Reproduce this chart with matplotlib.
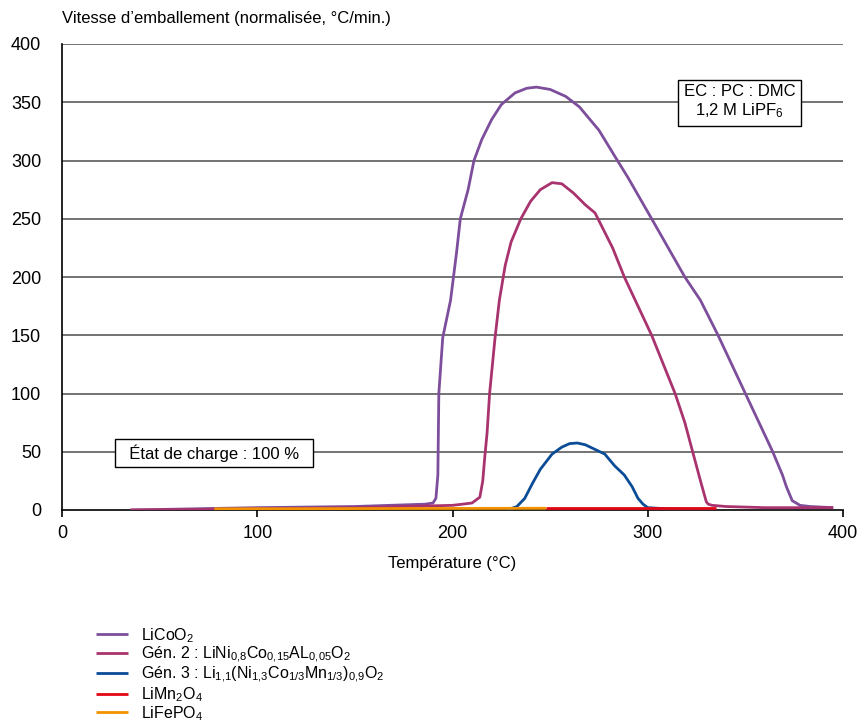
import matplotlib
matplotlib.use("Agg")
import matplotlib.pyplot as plt
from matplotlib import font_manager

# pick a narrow font if available
names = {f.name for f in font_manager.fontManager.ttflist}
main_font = "Liberation Sans Narrow" if "Liberation Sans Narrow" in names else "Liberation Sans"
plt.rcParams["font.family"] = [main_font, "DejaVu Sans"]
plt.rcParams["mathtext.fontset"] = "custom"
plt.rcParams["mathtext.rm"] = main_font
plt.rcParams["mathtext.it"] = main_font
plt.rcParams["mathtext.default"] = "rm"

# data
licoo2_x = [35, 100, 150, 186, 190, 191.5, 192.5, 193, 195, 199, 202, 204, 208, 211, 215, 220, 225,
            232, 238, 243, 250, 258, 265, 275, 283, 290, 302, 319, 327, 336, 350, 364, 369, 371,
            374, 378, 383, 395]
licoo2_y = [0, 2, 3, 5, 6, 10, 30, 100, 148, 180, 220, 250, 275, 300, 318, 335, 348,
            358, 362, 363, 361, 355, 346, 326, 304, 285, 250, 200, 180, 150, 100, 50, 30, 20,
            8, 4, 3, 2]

gen2_x = [35, 100, 150, 200, 205, 210, 214, 215.5, 216.5, 217.7, 219, 221.8, 224, 227, 230, 235,
          240, 245, 251, 256, 262, 268, 273, 282, 288, 295, 302, 308, 314, 319, 323, 327, 330,
          331, 333, 340, 360, 395]
gen2_y = [0, 1, 2, 4, 5, 6, 11, 25, 45, 66, 100, 148, 180, 210, 230, 250,
          265, 275, 281, 280, 272, 262, 255, 225, 200, 175, 150, 125, 100, 75, 50, 25, 7,
          5, 4, 3, 2, 2]

gen3_x = [228, 233, 237, 241, 245, 251, 256, 260, 264, 268, 273, 278, 283, 288, 292, 295,
          297.6, 300, 310, 335]
gen3_y = [0, 3, 10, 23, 35, 48, 54, 57, 57.5, 56, 52, 48, 38, 30, 20, 10, 5, 2, 1, 0.5]

limn_x = [248, 335]
limn_y = [2, 2]

lifepo_x = [78, 248]
lifepo_y = [1, 1.5]

labels = [
    r"LiCoO$_2$",
    r"Gén. 2 : LiNi$_{0{,}8}$Co$_{0{,}15}$AL$_{0{,}05}$O$_2$",
    r"Gén. 3 : Li$_{1{,}1}$(Ni$_{1{,}3}$Co$_{1/3}$Mn$_{1/3}$)$_{0{,}9}$O$_2$",
    r"LiMn$_2$O$_4$",
    r"LiFePO$_4$",
]
colors = ["#7D4E9B", "#A8336E", "#0B4C97", "#E30613", "#F39200"]

fig = plt.figure(figsize=(8.66, 7.24), dpi=100)
ax = fig.add_axes([62 / 866, 1 - 510 / 724, (843 - 62) / 866, (510 - 44) / 724])

for yv in range(50, 401, 50):
    ax.axhline(yv, color="#4d4d4d", linewidth=1.1, zorder=1)

series = [(licoo2_x, licoo2_y), (gen2_x, gen2_y), (gen3_x, gen3_y),
          (limn_x, limn_y), (lifepo_x, lifepo_y)]
handles = []
for (xs, ys), c, lab in zip(series, colors, labels):
    h, = ax.plot(xs, ys, color=c, linewidth=2, label=lab, zorder=3,
                 solid_capstyle="butt")
    handles.append(h)

ax.set_xlim(0, 400)
ax.set_ylim(0, 400)
ax.set_xticks([0, 100, 200, 300, 400])
ax.set_yticks(range(0, 401, 50))
ax.spines["top"].set_visible(False)
ax.spines["right"].set_visible(False)
ax.spines["left"].set_linewidth(1.2)
ax.spines["bottom"].set_linewidth(1.2)
ax.tick_params(axis="x", direction="out", length=5, width=1.2, pad=6, labelsize=13)
ax.tick_params(axis="y", length=0, pad=15, labelsize=13)
ax.set_xlabel("Température (°C)", fontsize=12, labelpad=10)

fig.text(62 / 866, 1 - 18 / 724, "Vitesse d\u2019emballement (normalisée, °C/min.)",
         fontsize=12, ha="left", va="center")

ax.text(347, 350, "EC : PC : DMC\n1,2 M LiPF$_6$", fontsize=12, ha="center", va="center",
        multialignment="center",
        bbox=dict(boxstyle="square,pad=0.35", facecolor="white", edgecolor="black",
                  linewidth=1), zorder=5)
ax.text(78, 49, "  État de charge : 100 %  ", fontsize=12, ha="center", va="center",
        bbox=dict(boxstyle="square,pad=0.3", facecolor="white", edgecolor="black",
                  linewidth=1), zorder=5)

fig.legend(handles=handles, labels=labels, loc="upper left",
           bbox_to_anchor=(88 / 866, 1 - 618 / 724), frameon=False, fontsize=11.5,
           handlelength=2.0, handletextpad=0.8, labelspacing=0.0, borderpad=0)

fig.savefig("out.png", dpi=100)
